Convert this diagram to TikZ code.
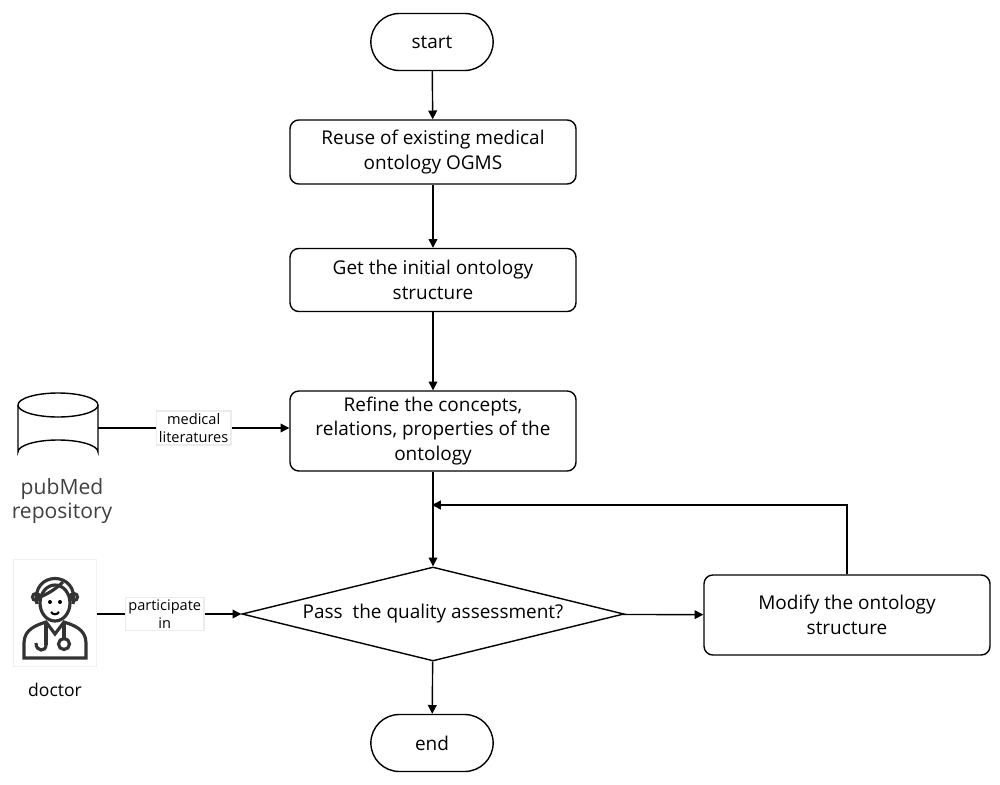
\documentclass[tikz,border=0pt]{standalone}
\usepackage{fontspec}
\setmainfont{Open Sans}
\usetikzlibrary{shapes.geometric,shapes.misc,arrows.meta}
\begin{document}
\begin{tikzpicture}[x=0.02cm,y=-0.02cm,
  box/.style={draw,rounded corners=5pt,thick,minimum width=286*0.02cm,align=center,font=\fontsize{10.8}{14}\selectfont},
  term/.style={draw,thick,rounded rectangle,minimum width=134*0.02cm,minimum height=57*0.02cm,font=\fontsize{10.8}{12}\selectfont},
  lab/.style={fill=white,draw=gray!15,align=center,font=\fontsize{8.3}{10}\selectfont,inner sep=1.5pt},
  arr/.style={thick,-{Triangle[length=5pt,width=5pt]}}]
\useasboundingbox (0,0) rectangle (1000,784);
\node[term] (start) at (432,42) {start};
\node[box,minimum height=64*0.02cm] (b1) at (433,152) {Reuse of existing medical\\ontology OGMS};
\node[box,minimum height=63*0.02cm] (b2) at (433,280) {Get the initial ontology\\structure};
\node[box,minimum height=79*0.02cm] (b3) at (433,431) {Refine the concepts,\\relations, properties of the\\ontology};
\node[draw,thick,diamond,aspect=4.06,minimum width=382*0.02cm,minimum height=94*0.02cm,inner sep=0pt,font=\fontsize{10.8}{12}\selectfont] (d) at (433,614) {Pass\ \ the quality assessment?};
\node[box,minimum height=80*0.02cm] (m) at (847,615) {Modify the ontology\\structure};
\node[term] (end) at (432,743) {end};
% cylinder
\draw[thick] (18,405) -- (18,452) arc[start angle=180,end angle=360,x radius=40,y radius=12] -- (98,405);
\draw[thick] (58,405) ellipse[x radius=40,y radius=12];
\coordinate (cyl) at (98,428);
\node[align=center,font=\fontsize{12}{14}\selectfont,text=black!75] (pm) at (62,501) {pubMed\\repository};
% doctor icon
\node[draw=gray!10,minimum width=83*0.02cm,minimum height=107*0.02cm] (doc) at (55,613) {};
\begin{scope}[line width=1.8pt,black!80]
\draw (55,603) circle[x radius=15,y radius=18];
\draw (37,604) .. controls (30,570) and (80,570) .. (73,604);
\draw (40,597) .. controls (50,593) and (58,587) .. (63,582);
\draw (36,597) circle[radius=3.5]; \draw (74,597) circle[radius=3.5];
\draw (24,658) -- (24,643) .. controls (24,629) and (37,625) .. (46,622) -- (55,634) -- (64,622) .. controls (73,625) and (86,629) .. (86,643) -- (86,658) -- cycle;
\draw (46,622) -- (46,645); \draw (64,622) -- (64,638);
\draw (64,644) circle[radius=5.5];
\draw (36,643) .. controls (36,652) and (46,652) .. (46,645);
\end{scope}
\fill (50,602) circle[radius=2]; \fill (60,602) circle[radius=2];
\draw[line width=1.2pt] (51,612) .. controls (53,615) and (57,615) .. (59,612);
\node[font=\fontsize{10}{11}\selectfont] (dl) at (55,690) {doctor};
\coordinate (loop) at (847,505);
\draw[arr] (start) -- (b1);
\draw[arr] (b1) -- (b2);
\draw[arr] (b2) -- (b3);
\draw[arr] (b3) -- (d);
\draw[arr] (d) -- (end);
\draw[arr] (d) -- (m);
\draw[arr] (m.north) -- (loop) -- (432,505);
\draw[arr] (cyl) -- node[lab,pos=0.5]{medical\\literatures} (b3.west|-cyl);
\draw[arr] (doc.east|-d) -- node[lab,pos=0.47]{participate\\in} (d.west);
\end{tikzpicture}
\end{document}
